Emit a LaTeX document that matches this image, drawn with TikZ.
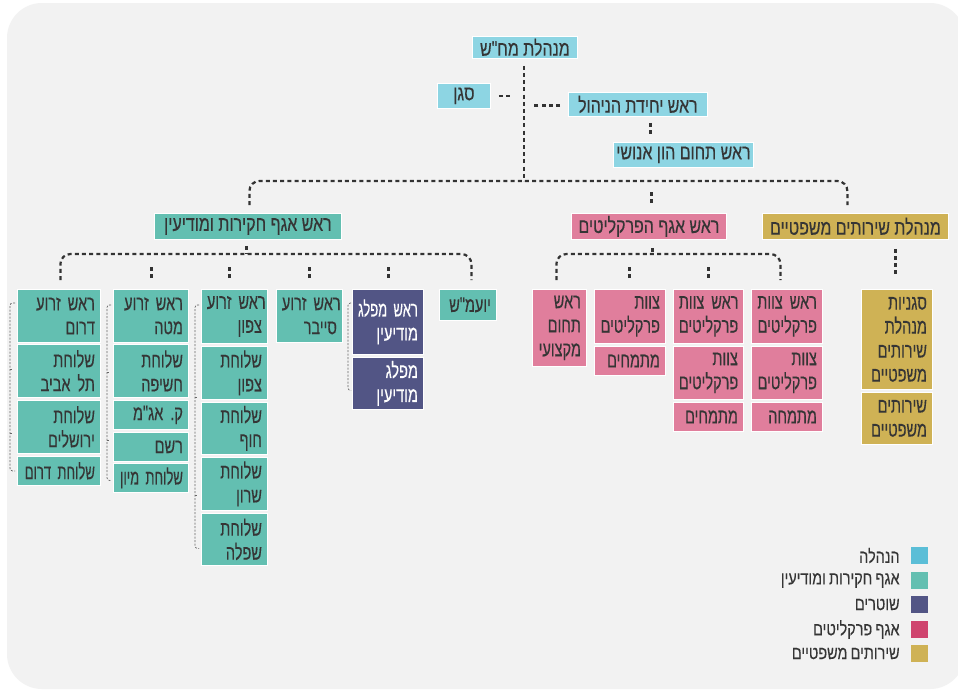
\documentclass[tikz,border=0pt]{standalone}
\usepackage{fontspec}
\usepackage{graphicx}
\usetikzlibrary{calc}
\TeXXeTstate=1
\frenchspacing
\newfontfamily\hebfont[Script=Hebrew,FakeStretch=0.69,FakeBold=0.3,WordSpace=0.8]{Liberation Sans}
\newfontfamily\hebtopfont[Script=Hebrew,FakeStretch=0.76,FakeBold=0.3]{Liberation Sans}
\newfontfamily\heblegfont[Script=Hebrew,FakeStretch=0.78,FakeBold=0.2,WordSpace=0.8]{Liberation Sans}
\newcommand\heb[1]{\mbox{\beginR#1\endR}}
\newcommand\hebn[1]{\scalebox{0.9}[1]{\beginR#1\endR}}
\newcommand\boxfont{\hebfont\fontsize{21}{24}\selectfont}
\newcommand\topfont{\hebtopfont\fontsize{21}{24}\selectfont}
\newcommand\legfont{\heblegfont\fontsize{18.5}{20}\selectfont}
\definecolor{bggray}{HTML}{F2F2F2}
\definecolor{mgmtfill}{HTML}{8DD5E3}
\definecolor{invfill}{HTML}{63BFB1}
\definecolor{polfill}{HTML}{525585}
\definecolor{prosfill}{HTML}{E07E9C}
\definecolor{legfill}{HTML}{CFB255}
\definecolor{txt}{HTML}{353535}
\definecolor{linec}{HTML}{333333}
\definecolor{brkc}{HTML}{666666}
\definecolor{lgA}{HTML}{5BBED7}
\definecolor{lgB}{HTML}{63BFB1}
\definecolor{lgC}{HTML}{525585}
\definecolor{lgD}{HTML}{CF446E}
\definecolor{lgE}{HTML}{CFB255}
\tikzset{
  boxbase/.style={rectangle, draw=white, line width=0.8pt, inner sep=0pt, text=txt, font=\boxfont},
  topbase/.style={boxbase, font=\topfont, align=center},
  mgmt/.style={topbase, fill=mgmtfill},
  inv/.style={boxbase, fill=invfill, align=right},
  invtop/.style={topbase, fill=invfill},
  pol/.style={boxbase, fill=polfill, align=right, text=white},
  pros/.style={boxbase, fill=prosfill, align=right},
  prostop/.style={topbase, fill=prosfill},
  leg/.style={boxbase, fill=legfill, align=right},
  legtop/.style={topbase, fill=legfill},
  bus/.style={draw=linec, line width=2.2pt, dash pattern=on 4pt off 3.2pt},
  brk/.style={draw=brkc, line width=0.7pt, dash pattern=on 2pt off 1.5pt},
  legsq/.style={rectangle, inner sep=0pt, minimum size=17pt},
  legtext/.style={inner sep=0pt, text=txt, font=\legfont, anchor=east},
}
\newcommand\placebox[7]{%
  \pgfmathsetmacro\pbW{#5-#3}%
  \pgfmathsetmacro\pbH{#6-#4}%
  \pgfmathsetmacro\pbT{#5-#3-11}%
  \node[#2, minimum width=\pbW pt, minimum height=\pbH pt, text width=\pbT pt, anchor=north west] (#1) at (#3,#4) {#7};}
\newcommand\topbox[7]{%
  \pgfmathsetmacro\pbW{#5-#3}%
  \pgfmathsetmacro\pbH{#6-#4}%
  \node[#2, minimum width=\pbW pt, minimum height=\pbH pt, anchor=north west] (#1) at (#3,#4) {#7};}
\begin{document}
\begin{tikzpicture}[x=1pt,y=-1pt]
\useasboundingbox (0,0) rectangle (958,691);
\fill[white] (0,0) rectangle (958,691);
\fill[bggray, rounded corners=35pt] (7,3) rectangle (965,689);
\coordinate (busY) at (0,181);
\coordinate (subY) at (0,254);
% top level
\topbox{mhsh}{mgmt}{472}{36}{577}{58}{\heb{מנהלת מח"ש}}
\topbox{sgan}{mgmt}{437}{83}{490}{108}{\heb{סגן}}
\topbox{yehida}{mgmt}{568}{92}{707}{116}{\heb{ראש יחידת הניהול}}
\topbox{hon}{mgmt}{613}{142}{753}{167}{\heb{ראש תחום הון אנושי}}
\topbox{hakirot}{invtop}{154}{213}{341}{239}{\heb{ראש אגף חקירות ומודיעין}}
\topbox{prak}{prostop}{571}{213}{726}{239}{\heb{ראש אגף הפרקליטים}}
\topbox{mish}{legtop}{762}{213}{948}{239}{\heb{מנהלת שירותים משפטיים}}
% investigations columns
\placebox{a1}{inv}{17}{289}{100}{342}{\heb{ראש זרוע}\\\heb{דרום}}
\placebox{a2}{inv}{17}{344}{100}{397}{\heb{שלוחת}\\\heb{תל אביב}}
\placebox{a3}{inv}{17}{400}{100}{453}{\heb{שלוחת}\\\heb{ירושלים}}
\placebox{a4}{inv}{17}{456}{100}{485}{\hebn{שלוחת דרום}}
\placebox{b1}{inv}{113}{289}{188}{342}{\heb{ראש זרוע}\\\heb{מטה}}
\placebox{b2}{inv}{113}{344}{188}{397}{\heb{שלוחת}\\\heb{חשיפה}}
\placebox{b3}{inv}{113}{400}{188}{429}{\heb{ק. אג"מ}}
\placebox{b4}{inv}{113}{432}{188}{461}{\heb{רשם}}
\placebox{b5}{inv}{113}{463}{188}{492}{\hebn{שלוחת מיון}}
\placebox{c1}{inv}{201}{289}{267}{343}{\heb{ראש זרוע}\\\heb{צפון}}
\placebox{c2}{inv}{201}{346}{267}{399}{\heb{שלוחת}\\\heb{צפון}}
\placebox{c3}{inv}{201}{402}{267}{454}{\heb{שלוחת}\\\heb{חוף}}
\placebox{c4}{inv}{201}{457}{267}{510}{\heb{שלוחת}\\\heb{שרון}}
\placebox{c5}{inv}{201}{513}{267}{565}{\heb{שלוחת}\\\heb{שפלה}}
\placebox{d1}{inv}{276}{289}{342}{342}{\heb{ראש זרוע}\\\heb{סייבר}}
\placebox{e1}{pol}{352}{289}{423}{354}{\hebn{ראש מפלג}\\\heb{מודיעין}}
\placebox{e2}{pol}{352}{357}{423}{409}{\heb{מפלג}\\\heb{מודיעין}}
\placebox{f1}{inv}{439}{289}{496}{320}{\heb{יועמ"ש}}
% prosecutors columns
\placebox{p1}{pros}{532}{289}{586}{366}{\heb{ראש}\\\heb{תחום}\\\heb{מקצועי}}
\placebox{q1}{pros}{594}{289}{665}{343}{\heb{צוות}\\\heb{פרקליטים}}
\placebox{q2}{pros}{594}{346}{665}{375}{\heb{מתמחים}}
\placebox{r1}{pros}{673}{289}{743}{343}{\heb{ראש צוות}\\\heb{פרקליטים}}
\placebox{r2}{pros}{673}{346}{743}{399}{\heb{צוות}\\\heb{פרקליטים}}
\placebox{r3}{pros}{673}{402}{743}{431}{\heb{מתמחים}}
\placebox{s1}{pros}{751}{289}{822}{343}{\heb{ראש צוות}\\\heb{פרקליטים}}
\placebox{s2}{pros}{751}{346}{822}{399}{\heb{צוות}\\\heb{פרקליטים}}
\placebox{s3}{pros}{751}{402}{822}{431}{\heb{מתמחה}}
% legal services
\placebox{g1}{leg}{861}{289}{932}{389}{\heb{סגניות}\\\heb{מנהלת}\\\heb{שירותים}\\\heb{משפטיים}}
\placebox{g2}{leg}{861}{392}{932}{444}{\heb{שירותים}\\\heb{משפטיים}}
% top connectors
\draw[bus] ($(mhsh.south)+(-1,7)$) -- ($(mhsh.south |- busY)+(-1,0)$);
\draw[bus] ($(sgan.east)+(8,0)$) -- ($(sgan.east)+(21,0)$);
\draw[bus] ($(yehida.west)+(-8,1)$) -- ($(yehida.west)+(-36,1)$);
\draw[bus] ($(yehida.south)+(12.5,6)$) -- ($(yehida.south)+(12.5,19)$);
\draw[bus, rounded corners=10pt] ($(hakirot.north)+(1.5,-8)$) -- ($(hakirot.north |- busY)+(1.5,0)$) -- ($(mish.north |- busY)+(-8,0)$) -- ($(mish.north)+(-8,-8)$);
\draw[bus] ($(prak.north)+(2.5,-10)$) -- ($(prak.north)+(2.5,-21)$);
% investigations sub bus
\draw[bus] ($(hakirot.south)+(-1.5,6)$) -- ($(hakirot.south |- subY)+(-1.5,0)$);
\draw[bus, rounded corners=10pt] ($(a1.north)+(1.5,-9)$) -- ($(a1.north |- subY)+(1.5,0)$) -- ($(f1.north |- subY)+(3.5,0)$) -- ($(f1.north)+(3.5,-9)$);
\draw[bus] ($(b1.north)+(0.5,-11)$) -- ($(b1.north)+(0.5,-24)$);
\draw[bus] ($(c1.north)+(-5,-11)$) -- ($(c1.north)+(-5,-24)$);
\draw[bus] ($(d1.north)+(0,-11)$) -- ($(d1.north)+(0,-24)$);
\draw[bus] ($(e1.north)+(0.5,-11)$) -- ($(e1.north)+(0.5,-24)$);
% prosecutors sub bus
\draw[bus] ($(prak.south)+(3.5,8)$) -- ($(prak.south |- subY)+(3.5,0)$);
\draw[bus, rounded corners=10pt] ($(p1.north)+(-3,-9)$) -- ($(p1.north |- subY)+(-3,0)$) -- ($(s1.north |- subY)+(-6.5,0)$) -- ($(s1.north)+(-6.5,-9)$);
\draw[bus] ($(q1.north)+(-0.5,-11)$) -- ($(q1.north)+(-0.5,-24)$);
\draw[bus] ($(r1.north)+(0,-11)$) -- ($(r1.north)+(0,-24)$);
% legal services
\draw[bus] ($(mish.south)+(40,9)$) -- ($(g1.north)+(-1.5,-12)$);
% brackets
\draw[brk, rounded corners=2.5pt] ($(a1.north west)+(-2,14)$) -- ($(a1.north west)+(-7,14)$) -- ($(a4.west)+(-7,0)$) -- ($(a4.west)+(-2,0)$);
\draw[brk] ($(a2.west)+(-7,-2)$) -- ($(a2.west)+(-4,-2)$);
\draw[brk] ($(a3.west)+(-7,6)$) -- ($(a3.west)+(-4,6)$);
\draw[brk, rounded corners=2.5pt] ($(b1.north west)+(-2,16)$) -- ($(b1.north west)+(-6,16)$) -- ($(b5.west)+(-6,2.5)$) -- ($(b5.west)+(-2,2.5)$);
\draw[brk] ($(b2.west)+(-6,1.5)$) -- ($(b2.west)+(-3,1.5)$);
\draw[brk] ($(b4.west)+(-6,-6.5)$) -- ($(b4.west)+(-3,-6.5)$);
\draw[brk, rounded corners=2.5pt] ($(c1.north west)+(-2,16)$) -- ($(c1.north west)+(-6,16)$) -- ($(c5.west)+(-6,9)$) -- ($(c5.west)+(-2,9)$);
\draw[brk] ($(c2.west)+(-6,24.5)$) -- ($(c2.west)+(-3,24.5)$);
\draw[brk] ($(c4.west)+(-6,11.5)$) -- ($(c4.west)+(-3,11.5)$);
\draw[brk, rounded corners=2.5pt] ($(e1.north west)+(-1,14)$) -- ($(e1.north west)+(-4,14)$) -- ($(e2.west)+(-4,7)$) -- ($(e2.west)+(-1,7)$);
% legend
\node[legsq, fill=lgA] (l1) at (919.5,555.5) {};
\node[legsq, fill=lgB] (l2) at (919.5,580.5) {};
\node[legsq, fill=lgC] (l3) at (919.5,604.5) {};
\node[legsq, fill=lgD] (l4) at (919.5,629.5) {};
\node[legsq, fill=lgE] (l5) at (919.5,653.5) {};
\node[legtext] (t1) at ($(l1.west)+(-11,0)$) {\heb{הנהלה}};
\node[legtext] (t2) at ($(l2.west)+(-11,0)$) {\heb{אגף חקירות ומודיעין}};
\node[legtext] (t3) at ($(l3.west)+(-11,0)$) {\heb{שוטרים}};
\node[legtext] (t4) at ($(l4.west)+(-11,0)$) {\heb{אגף פרקליטים}};
\node[legtext] (t5) at ($(l5.west)+(-11,0)$) {\heb{שירותים משפטיים}};
\end{tikzpicture}
\end{document}
